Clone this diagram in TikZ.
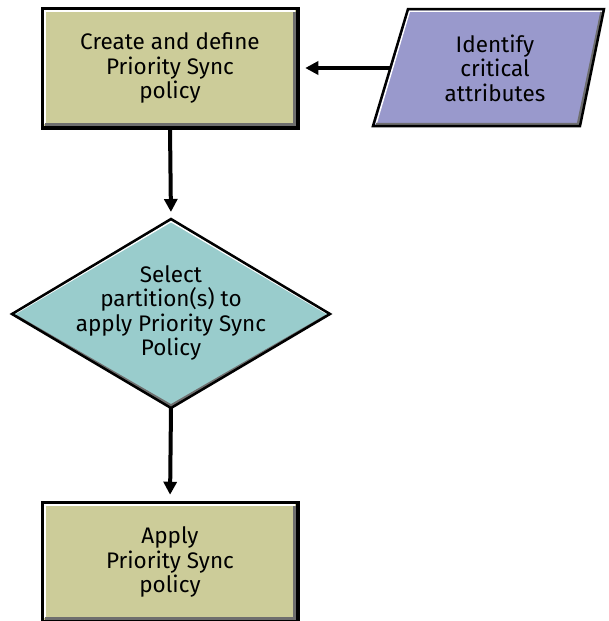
\documentclass[tikz,border=0pt]{standalone}
\usepackage{fontspec}
\setmainfont{Fira Sans}
\usetikzlibrary{shapes.geometric,arrows.meta}
\definecolor{khaki}{RGB}{204,204,153}
\definecolor{lav}{RGB}{153,153,204}
\definecolor{teal2}{RGB}{153,204,204}
\definecolor{shadowgray}{RGB}{110,110,110}
\tikzset{
  txt/.style={align=center,font=\fontsize{22.5}{24.5}\selectfont,text=black},
  boxnode/.style={txt,rectangle,fill=khaki,draw=black,line width=2.5pt,minimum width=254pt,minimum height=118pt,inner sep=0pt},
  hi/.style={draw=white,line width=1.5pt},
  sh/.style={draw=shadowgray,line width=2.5pt},
  outline/.style={draw=black,line width=2.5pt,line join=miter},
  conn/.style={line width=4pt,-{Triangle[length=13pt,width=13pt]},shorten >=7pt}
}
\begin{document}
\begin{tikzpicture}[x=1pt,y=-1pt]
\useasboundingbox (0,0) rectangle (608,621);
% top box
\node[boxnode] (create) at (170,68) {Create and define\\Priority Sync\\policy};
\draw[hi] (45,124) -- (45,11) -- (295,11);
\draw[sh] (294.5,12) -- (294.5,124.5) -- (45,124.5);
\draw[outline] (create.south west) rectangle (create.north east);
% parallelogram
\fill[lav] (408,9) -- (604,9) -- (580,126) -- (373,126) -- cycle;
\draw[hi] (376,124) -- (409.5,11) -- (602,11);
\draw[sh] (601.5,12) -- (578,124) -- (376,124);
\draw[outline] (408,9) -- (604,9) -- (580,126) -- (373,126) -- cycle;
\node[txt] (ident) at (495,68) {Identify\\critical\\attributes};
\coordinate (identw) at (390.5,68);
% diamond
\coordinate (seltop) at (171,219);
\coordinate (selbot) at (171,408);
\coordinate (sellef) at (12,314);
\coordinate (selrig) at (330,314);
\fill[teal2] (seltop) -- (selrig) -- (selbot) -- (sellef) -- cycle;
\draw[hi] (16,313) -- (171,221.5) -- (326,313);
\draw[sh] (16,316) -- (171,405.5) -- (326,316);
\draw[outline] (seltop) -- (selrig) -- (selbot) -- (sellef) -- cycle;
\node[txt] (select) at (171,313) {Select\\partition(s) to\\apply Priority Sync\\Policy};
% bottom box
\node[boxnode] (apply) at (170,562) {Apply\\Priority Sync\\policy};
\draw[hi] (45,618) -- (45,505) -- (295,505);
\draw[sh] (294.5,506) -- (294.5,618.5) -- (45,618.5);
\draw[outline] (apply.south west) rectangle (apply.north east);
% connectors
\draw[conn] (identw) -- (create.east);
\draw[conn] (create.south) -- (seltop);
\draw[conn] (selbot) -- (apply.north);
\end{tikzpicture}
\end{document}
